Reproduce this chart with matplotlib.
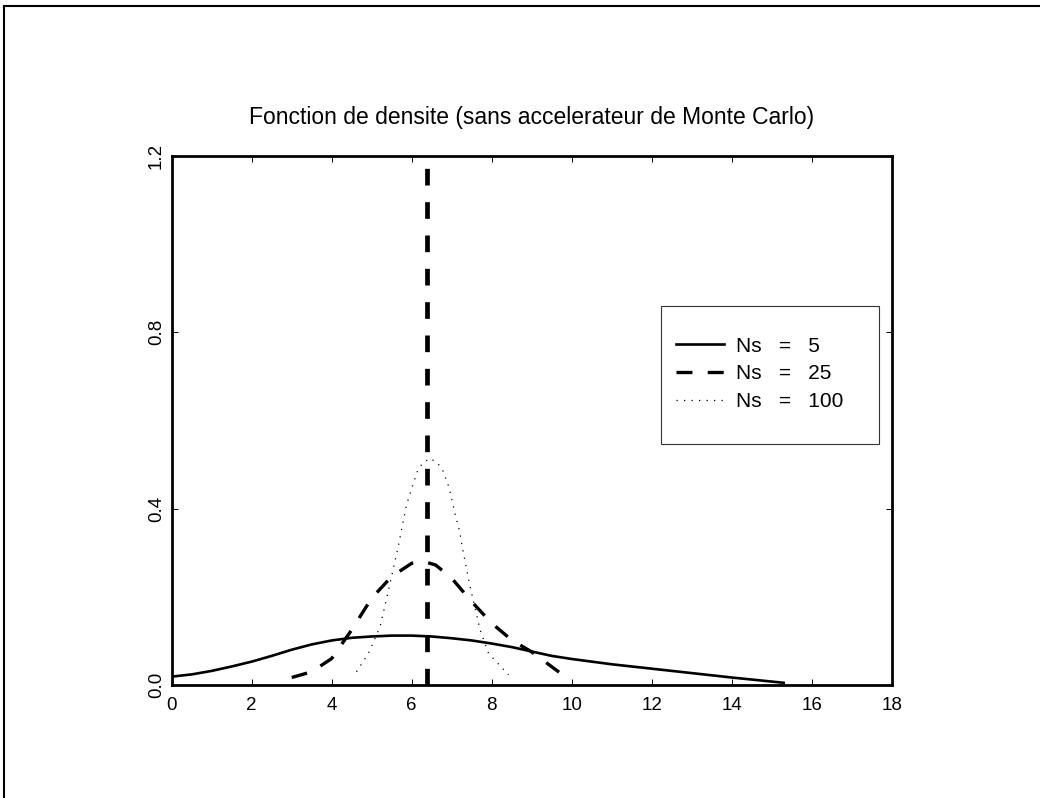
import numpy as np
import matplotlib
matplotlib.use('Agg')
import matplotlib.pyplot as plt
from matplotlib.lines import Line2D
from matplotlib.patches import Rectangle

plt.rcParams['font.family'] = ['Liberation Sans', 'DejaVu Sans']
plt.rcParams['lines.scale_dashes'] = False

# densite, Ns = 5
x_ns5 = [0, 0.5, 1, 1.5, 2, 2.5, 3, 3.5, 4, 4.5, 5, 5.5, 6, 6.5, 7, 7.5, 8, 8.5,
         9, 9.5, 10, 11, 12, 13, 14, 15.3]
y_ns5 = [0.019, 0.024, 0.032, 0.042, 0.053, 0.066, 0.080, 0.092, 0.101, 0.107,
         0.110, 0.112, 0.112, 0.110, 0.106, 0.101, 0.094, 0.086, 0.076, 0.066,
         0.059, 0.047, 0.037, 0.027, 0.017, 0.005]

# densite, Ns = 25
x_ns25 = [3.0, 3.5, 4, 4.5, 5, 5.5, 6, 6.3, 6.6, 7, 7.5, 8, 8.5, 9, 9.3, 9.7]
y_ns25 = [0.017, 0.030, 0.060, 0.125, 0.197, 0.246, 0.276, 0.280, 0.272, 0.242,
          0.189, 0.140, 0.102, 0.075, 0.055, 0.028]

# densite, Ns = 100
x_ns100 = [4.62, 4.92, 5.21, 5.46, 5.67, 5.87, 6.0, 6.14, 6.27, 6.46, 6.65, 6.79,
           6.94, 7.08, 7.19, 7.27, 7.46, 7.71, 7.92, 8.42]
y_ns100 = [0.030, 0.072, 0.132, 0.231, 0.317, 0.408, 0.446, 0.484, 0.503, 0.514,
           0.503, 0.484, 0.446, 0.389, 0.351, 0.310, 0.223, 0.125, 0.072, 0.023]

# valeur de reference (trait vertical)
x_ref = [6.38, 6.38]
y_ref = [0.0, 1.2]

labels = ['Ns   =   5', 'Ns   =   25', 'Ns   =   100']
xticks = list(range(0, 19, 2))
yticks = [0.0, 0.4, 0.8, 1.2]
ytick_labels = ['0.0', '0.4', '0.8', '1.2']

fig = plt.figure(figsize=(10.4, 7.98), dpi=100)
ax = fig.add_axes([0.1651, 0.1416, 0.6923, 0.6633])

l1, = ax.plot(x_ns5, y_ns5, color='black', lw=1.9, solid_joinstyle='round')
l2, = ax.plot(x_ns25, y_ns25, color='black', lw=2.4, linestyle=(0, (11.5, 11)),
              dash_capstyle='butt', dash_joinstyle='round')
l3, = ax.plot(x_ns100, y_ns100, color='black', lw=0.9, linestyle=(0, (0.9, 4.5)))
ax.plot(x_ref, y_ref, color='black', lw=3.4, linestyle=(0, (12, 12)),
        dash_capstyle='butt')

ax.set_xlim(0, 18)
ax.set_ylim(0, 1.2)
ax.set_xticks(xticks)
ax.set_xticklabels([str(t) for t in xticks])
ax.set_yticks(yticks)
ax.set_yticklabels(ytick_labels, rotation=90, va='center')
ax.tick_params(direction='in', length=4.3, width=0.7, top=True, right=True,
               labelsize=13.5, colors='black')
ax.tick_params(axis='x', pad=8.5)
ax.tick_params(axis='y', pad=5)
for s in ax.spines.values():
    s.set_linewidth(2.0)

ax.set_title('Fonction de densite (sans accelerateur de Monte Carlo)',
             fontsize=16.5, pad=23)

# cadre de legende
ax.add_patch(Rectangle((0.680, 0.455), 0.303, 0.261, transform=ax.transAxes,
                       fill=False, edgecolor='#333333', lw=0.8, zorder=5))
ax.legend([l1, l2, l3], labels, loc='center left', bbox_to_anchor=(0.701, 0.588),
          frameon=False, borderpad=0, borderaxespad=0, fontsize=15,
          handlelength=2.3, handletextpad=0.55, labelspacing=0.42)

# bord de la figure
fig.add_artist(Line2D([4 / 1040, 1], [1 - 6 / 798, 1 - 6 / 798], color='black', lw=1.5))
fig.add_artist(Line2D([4 / 1040, 4 / 1040], [0, 1 - 6 / 798], color='black', lw=1.5))

fig.savefig('out.png', dpi=100)
